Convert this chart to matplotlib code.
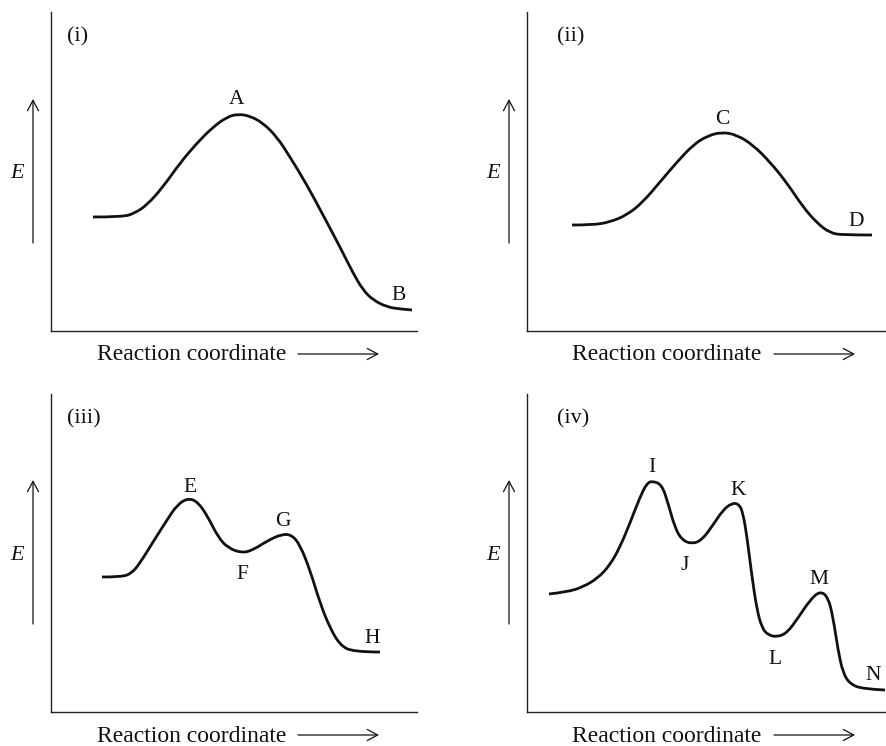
import numpy as np
import matplotlib
matplotlib.use('Agg')
import matplotlib.pyplot as plt
from matplotlib.path import Path
from matplotlib.patches import PathPatch

plt.rcParams['font.family'] = ['Liberation Serif', 'DejaVu Serif']

W, H = 886, 746

# energy profiles
# x = reaction coordinate, e = energy (same arbitrary units, origin at the axes corner)
x1 = [42, 72, 84, 96, 112, 129, 146, 162, 176, 187, 199, 212, 226, 239, 256, 272, 289, 302, 312, 322, 336, 349, 361]
e1 = [114, 114, 118, 126, 144, 168, 188, 204, 214, 217, 215, 208, 194, 174, 146, 116, 84, 58, 41, 31, 24, 22, 21]

x2 = [45, 66, 83, 100, 116, 133, 150, 166, 180, 195, 210, 226, 243, 260, 276, 290, 303, 316, 345]
e2 = [106, 106, 109, 116, 129, 149, 169, 186, 195, 199, 196, 186, 169, 148, 124, 108, 98, 96, 96]

x3 = [51, 71, 81, 89, 102, 116, 126, 137, 147, 157, 167, 177, 191, 202, 216, 231, 241, 249, 259, 269, 279, 289, 302, 329]
e3 = [135, 135, 139, 149, 170, 192, 207, 214, 210, 195, 175, 164, 159, 162, 171, 178, 177, 167, 142, 109, 84, 67, 60, 60]

x4 = [22, 40, 56, 71, 83, 93, 103, 113, 120, 126, 135, 141, 148, 155, 165, 175, 186, 196, 205, 212,
      216, 220, 225, 230, 235, 241, 250, 260, 271, 283, 293, 301, 306, 311, 316, 323, 336, 358]
e4 = [118, 120, 125, 134, 147, 165, 189, 215, 229, 231, 227, 209, 184, 172, 168, 172, 187, 202, 209, 208,
      199, 175, 135, 102, 84, 77, 75, 79, 94, 112, 121, 115, 95, 62, 39, 28, 23, 22]

profiles = [(x1, e1), (x2, e2), (x3, e3), (x4, e4)]
panel_tags = ['(i)', '(ii)', '(iii)', '(iv)']

# point labels: text, x, e (centre of the letter)
labels1 = [('A', 186, 234), ('B', 348, 38)]
labels2 = [('C', 195, 214), ('D', 329, 112)]
labels3 = [('E', 139, 227), ('F', 191, 140), ('G', 232, 193), ('H', 321, 76)]
labels4 = [('I', 125, 247), ('J', 158, 149), ('K', 211, 224), ('L', 248, 55),
           ('M', 292, 135), ('N', 346, 39)]
point_labels = [labels1, labels2, labels3, labels4]

# panel boxes in pixels: left, top, width, height
boxes = [(51, 12, 366, 319), (527, 12, 359, 319), (51, 394, 366, 318), (527, 394, 359, 318)]
tag_x = [16, 30, 16, 30]


def smooth(x, y):
    p = np.column_stack([x, y]).astype(float)
    verts = [p[0]]
    codes = [Path.MOVETO]
    for i in range(1, len(p) - 2):
        verts += [p[i], (p[i] + p[i + 1]) / 2]
        codes += [Path.CURVE3, Path.CURVE3]
    verts += [p[-2], p[-1]]
    codes += [Path.CURVE3, Path.CURVE3]
    return Path(verts, codes)


fig = plt.figure(figsize=(W / 100, H / 100), dpi=100)

for k in range(4):
    l, t, w, h = boxes[k]
    ax = fig.add_axes([l / W, 1 - (t + h) / H, w / W, h / H])
    ax.set_xlim(0, w)
    ax.set_ylim(0, h)
    for s in ['top', 'right']:
        ax.spines[s].set_visible(False)
    for s in ['left', 'bottom']:
        ax.spines[s].set_linewidth(1.0)
        ax.spines[s].set_color('#222222')
    ax.set_xticks([])
    ax.set_yticks([])
    ax.patch.set_alpha(0)

    x, e = profiles[k]
    ax.add_patch(PathPatch(smooth(x, e), fill=False, lw=2.0, color='#111111',
                           capstyle='butt', joinstyle='round'))

    for txt, lx, ly in point_labels[k]:
        ax.annotate(txt, (lx, ly), xytext=(0, -4.8), textcoords='offset points',
                    ha='center', va='baseline', fontsize=15.5, color='#111111')

    ax.text(tag_x[k], h - 25, panel_tags[k], ha='left', va='center', fontsize=16,
            color='#111111')

    # energy axis arrow + label
    ax.annotate('', xy=(-18, 232), xytext=(-18, 88), annotation_clip=False,
                arrowprops=dict(arrowstyle='->,head_length=0.75,head_width=0.4',
                                lw=0.9, color='#111111', shrinkA=0, shrinkB=0))
    ax.text(-34, 157, 'E', style='italic', ha='center', va='center', fontsize=16,
            color='#111111', clip_on=False)

    # reaction coordinate label + arrow
    tx = 46 if k % 2 == 0 else 45
    ax.text(tx, -29.5, 'Reaction coordinate', ha='left', va='baseline', fontsize=17,
            color='#111111', clip_on=False)
    ax.annotate('', xy=(328, -23), xytext=(247, -23), annotation_clip=False,
                arrowprops=dict(arrowstyle='->,head_length=0.75,head_width=0.4',
                                lw=0.9, color='#111111', shrinkA=0, shrinkB=0))

fig.savefig('out.png', dpi=100)
